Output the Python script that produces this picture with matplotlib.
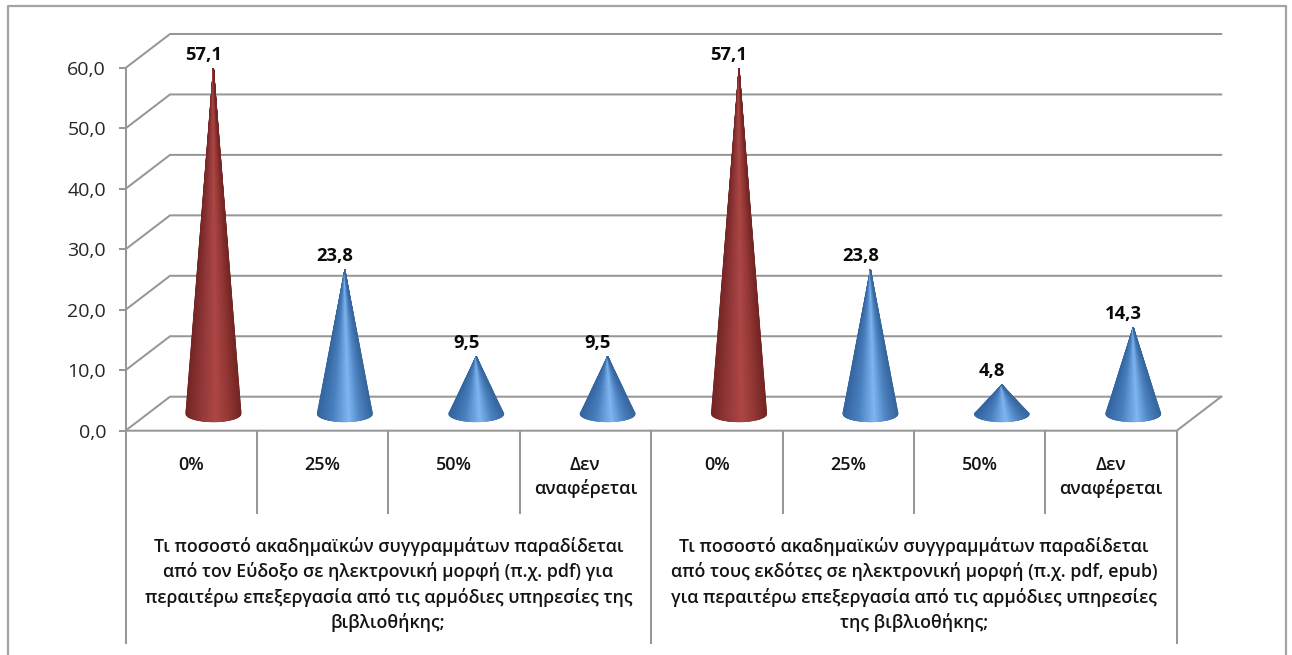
import numpy as np
import matplotlib
matplotlib.use("Agg")
import matplotlib.pyplot as plt
from matplotlib.colors import LinearSegmentedColormap
from matplotlib.lines import Line2D

categories = ["0%", "25%", "50%", "Δεν\nαναφέρεται", "0%", "25%", "50%", "Δεν\nαναφέρεται"]
values = [57.1, 23.8, 9.5, 9.5, 57.1, 23.8, 4.8, 14.3]
value_labels = ["57,1", "23,8", "9,5", "9,5", "57,1", "23,8", "4,8", "14,3"]
highlighted = [True, False, False, False, True, False, False, False]
y_ticks = [0, 10, 20, 30, 40, 50, 60]
group_labels = [
    "Τι ποσοστό ακαδημαϊκών συγγραμμάτων παραδίδεται\nαπό τον Εύδοξο σε ηλεκτρονική μορφή (π.χ. pdf) για\nπεραιτέρω επεξεργασία από τις αρμόδιες υπηρεσίες της\nβιβλιοθήκης;",
    "Τι ποσοστό ακαδημαϊκών συγγραμμάτων παραδίδεται\nαπό τους εκδότες σε ηλεκτρονική μορφή (π.χ. pdf, epub)\nγια περαιτέρω επεξεργασία από τις αρμόδιες υπηρεσίες\nτης βιβλιοθήκης;",
]

W, H = 1292, 655
plt.rcParams["font.family"] = ["Open Sans", "DejaVu Sans"]
GRID = "#979797"
TXT = "#141414"
LW = 1.45

fig = plt.figure(figsize=(W / 100, H / 100), dpi=100, facecolor="white")
L, R, T, B = 125.5, 1176.7, 68.0, 430.7
ax = fig.add_axes([L / W, 1 - B / H, (R - L) / W, (B - T) / H])
ax.set_xlim(0, 8)
ax.set_ylim(0, 60)
ax.patch.set_alpha(0)
for s in ("top", "right", "bottom"):
    ax.spines[s].set_visible(False)
ax.spines["left"].set_color(GRID)
ax.spines["left"].set_linewidth(LW)
ax.set_xticks([])
ax.set_yticks(y_ticks)
ax.set_yticklabels([f"{v:.1f}".replace(".", ",") for v in y_ticks], fontsize=14, color="#262626")
ax.tick_params(axis="y", length=5, width=LW, color=GRID, pad=9)

px_x = 8 / (R - L)
px_y = 60 / (B - T)
DX, DY = 44.5 * px_x, 34 * px_y

# outer border (no bottom edge)
fig.add_artist(Line2D([7.5 / W, 7.5 / W, 1286 / W, 1286 / W], [0, 1 - 5.5 / H, 1 - 5.5 / H, 0],
                      color="#a3a3a3", lw=1.6, transform=fig.transFigure))

# walls, floor, category dividers
for v in y_ticks:
    ax.plot([0, DX, 8 + DX], [v, v + DY, v + DY], color=GRID, lw=LW, clip_on=False, zorder=1)
ax.plot([0, 8, 8 + DX], [0, 0, DY], color=GRID, lw=LW, clip_on=False, zorder=1)
long_end = (B - 643) * px_y
short_end = (B - 512.7) * px_y
for i in range(0, 9):
    end = long_end if i % 4 == 0 else short_end
    ax.plot([i, i], [0, end], color=GRID, lw=LW, clip_on=False, zorder=1)

blue = LinearSegmentedColormap.from_list("b", [(0, "#33659f"), (0.28, "#4a80bf"), (0.58, "#80b7f2"), (0.8, "#4f84c2"), (1, "#36679f")])
red = LinearSegmentedColormap.from_list("r", [(0, "#742624"), (0.28, "#93383a"), (0.55, "#ad4745"), (0.8, "#923634"), (1, "#742624")])

hw, sm = 27.5 * px_x, 8 * px_y
yb = DY / 2
u = np.linspace(-1, 1, 121)
for i, (val, hi) in enumerate(zip(values, highlighted)):
    xc = i + 0.5 + DX / 2
    t = np.array([0.0, 0.5, 1.0])
    X = np.array([xc + u * hw * (1 - k) for k in t])
    Y = np.array([(yb - sm * np.sqrt(1 - u ** 2)) * (1 - k) + (yb + val) * k for k in t])
    C = np.array([(u + 1) / 2 for _ in t])
    ax.pcolormesh(X, Y, C, shading="gouraud", cmap=red if hi else blue, vmin=0, vmax=1, zorder=3, clip_on=False)
    ax.annotate(value_labels[i], (xc, yb + val), xytext=(-7.2, 9.6), textcoords="offset points",
                ha="center", va="center", fontsize=13.2, fontweight="bold", color="#0a0a0a", zorder=5)
    ax.text(i + 0.5, (B - 455.5) * px_y, categories[i], ha="center", va="top", fontsize=13,
            fontweight=600, color=TXT, linespacing=1.35, clip_on=False)

for g, text in enumerate(group_labels):
    ax.text(2 + 4 * g, (B - 537) * px_y, text, ha="center", va="top", fontsize=12.8,
            fontweight=600, color=TXT, linespacing=1.42, clip_on=False)

ax.set_xlim(0, 8)
ax.set_ylim(0, 60)
fig.savefig("out.png", dpi=100, facecolor="white")
